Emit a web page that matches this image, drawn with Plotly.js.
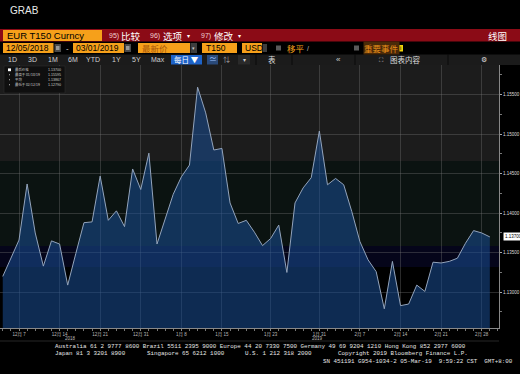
<!DOCTYPE html>
<html>
<head>
<meta charset="utf-8">
<script src="https://cdn.plot.ly/plotly-3.0.1.min.js"></script>
<style>html,body{margin:0;padding:0;background:#000;}#chart{width:520px;height:374px;}</style>
</head>
<body>
<div id="chart"></div>
<script>
// ---- data ----
const dates = [
 "2018-12-05","2018-12-06","2018-12-07","2018-12-10","2018-12-11","2018-12-12","2018-12-13","2018-12-14",
 "2018-12-17","2018-12-18","2018-12-19","2018-12-20","2018-12-21","2018-12-24","2018-12-26","2018-12-27",
 "2018-12-28","2018-12-31","2019-01-02","2019-01-03","2019-01-04","2019-01-07","2019-01-08","2019-01-09",
 "2019-01-10","2019-01-11","2019-01-14","2019-01-15","2019-01-16","2019-01-17","2019-01-18","2019-01-21",
 "2019-01-22","2019-01-23","2019-01-24","2019-01-25","2019-01-28","2019-01-29","2019-01-30","2019-01-31",
 "2019-02-01","2019-02-04","2019-02-05","2019-02-06","2019-02-07","2019-02-08","2019-02-11","2019-02-12",
 "2019-02-13","2019-02-14","2019-02-15","2019-02-18","2019-02-19","2019-02-20","2019-02-21","2019-02-22",
 "2019-02-25","2019-02-26","2019-02-27","2019-02-28","2019-03-01"];
const prices = [
 1.1320,1.1343,1.1366,1.1437,1.1375,1.1333,1.1365,1.1361,
 1.1309,1.1349,1.1388,1.1389,1.1447,1.1391,1.1403,1.1383,
 1.1456,1.1430,1.1476,1.1361,1.1393,1.1424,1.1446,1.1461,
 1.15595,1.1527,1.1480,1.1482,1.1413,1.1387,1.1391,1.1376,
 1.1359,1.1368,1.1385,1.1325,1.1413,1.1432,1.1445,1.1504,
 1.1436,1.1444,1.1436,1.1402,1.1364,1.1341,1.1326,1.1279,
 1.1339,1.1283,1.1285,1.1309,1.1301,1.1338,1.1337,1.1339,
 1.1343,1.1362,1.1378,1.1375,1.1370];
const tickDates = ["2018-12-07","2018-12-14","2018-12-21","2018-12-31","2019-01-08","2019-01-15",
 "2019-01-23","2019-01-31","2019-02-07","2019-02-14","2019-02-21","2019-02-28"];
const tickText = ["12月 7","12月 14","12月 21","12月 31","1月 8","1月 15",
 "1月 23","1月 31","2月 7","2月 14","2月 21","2月 28"];
const legendLabels = ["最后价格","最高于 01/10/19","平均","最低于 02/12/19"];
const legendValues = ["1.13700","1.15595","1.13867","1.12790"];
const lastPrice = 1.13700;

// ---- layout helpers (pixel -> paper) ----
const L=0, R=499, T=65, B=328;
const px = x => (x-L)/(R-L);
const py = y => (B-y)/(B-T);
const shapes = [], ann = [];
function rect(x0,y0,x1,y1,fill,line){
  shapes.push({type:'rect',xref:'paper',yref:'paper',x0:px(x0),x1:px(x1),y0:py(y1),y1:py(y0),
    fillcolor:fill,line:{width:line?0.6:0,color:line||fill},layer:'above'});
}
function hline(x0,x1,y,color){shapes.push({type:'line',xref:'paper',yref:'paper',x0:px(x0),x1:px(x1),y0:py(y),y1:py(y),line:{color:color,width:1},layer:'above'});}
function vline(x,y0,y1,color){shapes.push({type:'line',xref:'paper',yref:'paper',x0:px(x),x1:px(x),y0:py(y0),y1:py(y1),line:{color:color,width:1},layer:'above'});}
function txt(x,y,text,size,color,anchor,family,extra){
  ann.push(Object.assign({xref:'paper',yref:'paper',x:px(x),y:py(y),text:text,showarrow:false,
    xanchor:anchor||'left',yanchor:'middle',font:{size:size,color:color,family:family||'Liberation Sans, Arial, Noto Sans CJK SC, sans-serif'}},extra||{}));
}
const CJK = 'Noto Sans CJK SC, sans-serif';
const ORG = '#f6a01a';

// header
txt(8,10.5,'GRAB',10,'#e8e8e8','left','Liberation Sans, Arial');
rect(0,29,520,41.5,'#8b0b16');
rect(3,30,102,41,ORG);
txt(4.5,35.7,'EUR T150 Curncy',9.5,'#000');
txt(107,35.5,'95)',7,'#f0d0d0'); txt(119,35.5,'比较',9.5,'#fff','left',CJK);
txt(148,35.5,'96)',7,'#f0d0d0'); txt(161,35.5,'选项',9.5,'#fff','left',CJK); txt(188,35.5,'▾',6,'#fff','center');
txt(199,35.5,'97)',7,'#f0d0d0'); txt(212,35.5,'修改',9.5,'#fff','left',CJK); txt(239,35.5,'▾',6,'#fff','center');
txt(509,35.5,'线图',9.5,'#fff','right',CJK);
// row 2
rect(3,43,53.5,53,ORG); txt(4,48.2,'12/05/2018',8.5,'#000');
rect(54.5,44,61,52,'#4a4a4a'); rect(56,46,59.5,50,'#999');
txt(67,48,'-',8,'#ddd','center');
rect(73,43,124,53,ORG); txt(74,48.2,'03/01/2019',8.5,'#000');
rect(124.5,44,131,52,'#4a4a4a'); rect(126,46,129.5,50,'#999');
rect(138,43,190,53,ORG); txt(140,48.2,'最新价',8.5,'#a8560a','left',CJK);
rect(190.5,43,197,53,'#3e3e3e'); txt(193.7,48,'▾',5,'#ccc','center');
rect(202,43,237,53,ORG); txt(204,48.2,'T150',8.5,'#000');
rect(242,43,262,53,ORG); txt(243,48.2,'USD',8.5,'#000');
rect(262.5,44,267,52,'#3e3e3e');
rect(276,45.5,281,50.5,'#5a5a5a'); txt(285,48.2,'移平',8.5,ORG,'left',CJK); txt(308,48,'/',7,'#bbb','center');
rect(354,45.5,359,50.5,'#5a5a5a'); txt(363,48.2,'重要事件',8.5,'#e88f1a','left',CJK,{bgcolor:'#4a2a08',borderpad:0});
rect(397,45,403,51.5,'#f2d20a'); txt(400,48.3,'i',6,'#000','center');
// row 3
rect(0,54.5,520,65,'#1b1b1b');
const btns=[['1D',12.5],['3D',32.5],['1M',52.5],['6M',72.5],['YTD',93],['1Y',116.5],['5Y',136],['Max',157.5]];
btns.forEach(b=>txt(b[1],59.8,b[0],7,'#d0d0d0','center'));
rect(171,55,202,64.5,'#1e63c8'); txt(186.5,59.8,'每日 ▼',7.5,'#fff','center',CJK);
rect(207,55,218,64.5,'#2a4a7a'); txt(212.5,59.5,'≃',8,'#9fc0ff','center');
txt(226,59.8,'⇅',7,'#aaa','center');
rect(238,55,250,64.5,'#2a2a2a'); txt(244,59.8,'▾',6,'#ccc','center');
vline(256,54.5,65,'#0a0a0a'); vline(292,54.5,65,'#0a0a0a'); vline(355,54.5,65,'#0a0a0a'); vline(448,54.5,65,'#0a0a0a');
txt(272,59.8,'表',7.5,'#ddd','center',CJK);
txt(338,59.5,'«',8,'#ccc','center');
txt(381,59.8,'⛶',6,'#ccc','center'); txt(388,59.8,'图表内容',7.5,'#ddd','left',CJK);
txt(483.5,59.8,'⚙',7,'#ddd','center');
// legend box
rect(4,66,65,93,'#0f0f0f','#2c2c2c');
[69.8,74.8,79.8,84.8].forEach((y,i)=>{
  if(i===0) rect(8,68.4,11,71.2,'#fff'); else rect(9,y-0.5,10,y+0.5,'#bbb');
  txt(14,y,legendLabels[i],3.4,'#ccc','left',CJK,{borderpad:0});
  txt(62,y,legendValues[i],3.6,'#ccc','right',undefined,{borderpad:0});
});
// year labels, separator
txt(70,338.5,'2018',4.5,'#bbb','center');
txt(317,338.5,'2019',4.5,'#bbb','center');
hline(0,499,341,'#262626');
// footer
const MONO='Liberation Mono, DejaVu Sans Mono, monospace';
txt(53,346.5,'Australia 61 2 9777 8600 Brazil 5511 2395 9000 Europe 44 20 7330 7500 Germany 49 69 9204 1210 Hong Kong 852 2977 6000',5.85,'#e6e6e6','left',MONO);
txt(53,353.5,'Japan 81 3 3201 8900',5.85,'#e6e6e6','left',MONO);
txt(145,353.5,'Singapore 65 6212 1000',5.85,'#e6e6e6','left',MONO);
txt(243,353.5,'U.S. 1 212 318 2000',5.85,'#e6e6e6','left',MONO);
txt(336,353.5,'Copyright 2019 Bloomberg Finance L.P.',5.85,'#e6e6e6','left',MONO);
txt(515,361,'SN 451191 G954-1034-2 05-Mar-19\u00a0\u00a09:59:22 CST\u00a0\u00a0GMT+8:00',5.85,'#e6e6e6','right',MONO);
// last price tag
ann.push({xref:'paper',yref:'y',x:px(502.5),y:lastPrice,text:lastPrice.toFixed(5),showarrow:false,xanchor:'left',yanchor:'middle',
  bgcolor:'#ffffff',borderpad:1,font:{size:4.5,color:'#000',family:'Liberation Sans, Arial'}});

// background bands (data y)
const yMin=1.12547, yMax=1.15876;
const bands=[[1.14661,yMax,'#1c1c1c'],[1.13585,1.14661,'#0b1311'],[1.13319,1.13585,'#05051a']];
bands.forEach(b=>shapes.push({type:'rect',xref:'paper',yref:'y',x0:0,x1:1,y0:b[0],y1:b[1],fillcolor:b[2],line:{width:0},layer:'below'}));

const xs = dates.map((d,i)=>i);
const tickVals = tickDates.map(d=>dates.indexOf(d));

const trace = {x:xs,y:prices,type:'scatter',mode:'lines',fill:'tozeroy',
  fillcolor:'rgba(26,78,150,0.55)',line:{color:'#93a4bc',width:1},hoverinfo:'skip'};

const layout = {
  width:520,height:374,margin:{l:L,r:520-R,t:T,b:374-B,pad:0},
  paper_bgcolor:'#000',plot_bgcolor:'#000',showlegend:false,
  xaxis:{range:[-0.34,61.13],tickmode:'array',tickvals:tickVals,ticktext:tickText,
    showgrid:true,gridcolor:'rgba(120,120,120,0.35)',gridwidth:1,zeroline:false,
    showline:true,linecolor:'#888',linewidth:1,ticks:'outside',ticklen:2,tickcolor:'#888',
    minor:{dtick:1,tick0:0,ticks:'outside',ticklen:1.5,tickcolor:'#777',showgrid:false},
    tickfont:{size:4.5,color:'#bbb',family:'Liberation Sans, Noto Sans CJK SC, sans-serif'}},
  yaxis:{side:'right',range:[yMin,yMax],tick0:1.13,dtick:0.005,tickformat:'.5f',
    showgrid:true,gridcolor:'rgba(120,120,120,0.35)',gridwidth:1,zeroline:false,
    showline:true,linecolor:'#888',linewidth:1,ticks:'outside',ticklen:2,tickcolor:'#aaa',
    minor:{dtick:0.0025,ticks:'outside',ticklen:1.5,tickcolor:'#777',showgrid:false},
    tickfont:{size:4.5,color:'#ddd',family:'Liberation Sans, Arial'}},
  shapes:shapes, annotations:ann
};
Plotly.newPlot('chart',[trace],layout,{staticPlot:true,displayModeBar:false});
</script>
</body>
</html>
